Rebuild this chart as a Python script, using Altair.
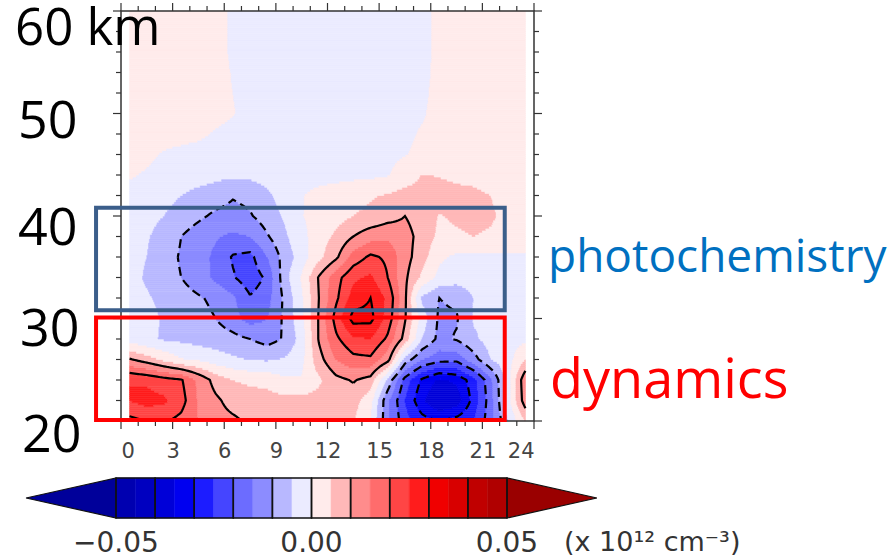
import numpy as np
import pandas as pd
import altair as alt

# ---------------- data ----------------
HOURS = [0.5, 1.5, 2.5, 3.5, 4.5, 5.5, 6.5, 7.5, 8.5, 9.5, 10.5, 11.5,
         12.5, 13.5, 14.5, 15.5, 16.5, 17.5, 18.5, 19.5, 20.5, 21.5, 22.5, 23.5]
HEIGHTS_KM = [20, 22, 24, 26, 28, 30, 32, 34, 36, 38, 40,
              42, 44, 46, 48, 50, 52, 54, 56, 58, 60]

# anomaly in units of 1e-3 (x 10^12 cm^-3); one list per height, hours 0.5 .. 23.5
ROW_20 = [18.5, 20, 20.5, 18.5, 15, 12, 11, 9, 7.5, 7, 7, 6.5, 6, 5.5, 0, -14, -23, -28, -30, -28, -25, -17, -5, 5]
ROW_22 = [25, 27, 26, 22, 14.5, 11, 8, 7.5, 7, 6.5, 6.5, 7, 7, 7, 2, -14, -25, -34, -40, -38, -28, -17, -2, 13]
ROW_24 = [25, 24, 22, 20.5, 14, 8, 5, 4, 3.5, 1, 0.5, 4, 8.5, 10.5, 8, -6, -22, -31, -36, -34, -27, -16, -2, 14]
ROW_26 = [10.5, 7.5, 4, 0.5, -0.5, -2.5, -4, -5.2, -5.5, -4.5, -1.5, 8, 15, 18.5, 19, 12, -7, -15, -18, -18.5, -12, -5, -2, 5]
ROW_28 = [-2, -4, -5.5, -6, -7, -7.5, -8.5, -10, -12, -9.5, -3, 10.5, 19, 24, 25, 19, 8, -5, -11.5, -9.5, -6, -3, -2, -1]
ROW_30 = [-2.5, -3.5, -5.5, -7, -8.5, -10, -13, -17, -15, -9, -1.5, 10.5, 22, 32, 31.5, 23, 10.5, -2, -11, -10.5, -4.5, -2.5, -1.5, -1]
ROW_32 = [-3, -4.5, -6, -8, -9.5, -11, -14, -19.5, -17, -9, -1, 10, 19, 27, 30, 24, 11, -6, -10, -9, -5, -3, -2, -1.5]
ROW_34 = [-3.5, -5.5, -8, -10, -12.5, -16, -19.5, -23, -19, -7, 0.5, 10.5, 18, 24, 26, 20, 11, 4, -1.5, -3, -2.5, -2, -1.5, -1]
ROW_36 = [-3.5, -5, -8, -10.5, -13, -16, -20.5, -21.5, -15, -8, -2.5, 3.5, 9, 17, 21, 19, 12, 7, 1, -1, -1.5, -1.5, -1, -0.5]
ROW_38 = [-3.5, -4.5, -7, -10, -12.5, -14.5, -16, -15, -10.5, -6, -1.5, 2.5, 6, 10, 13, 14, 12, 8, 4, 4.5, 5, 4.5, 3, 1.5]
ROW_40 = [-2, -3.5, -5, -7, -9, -11, -12, -10.5, -7.5, -4.5, -0.2, 1.5, 3, 5, 6, 8, 10, 7.5, 4.8, 5.5, 6, 5.5, 4, 2.5]
ROW_42 = [-1.5, -2.5, -3.5, -5, -6.5, -7.5, -9.5, -8.5, -6, -3, -0.3, 1.5, 2.5, 3.5, 4.5, 5.5, 7, 7, 6.5, 6, 5.8, 5, 3.5, 2.5]
ROW_44 = [0.5, -0.5, -1.5, -2.5, -3, -3.8, -4.2, -4, -3.2, -2.5, -2, -1.8, -1.5, -1.2, -1, -0.3, 2, 5.2, 4.8, 4.3, 4, 3.2, 2.5, 2]
ROW_46 = [2, 1, -0.5, -1.5, -2, -2.3, -2.5, -2.5, -2.5, -2.3, -2.2, -2, -2, -1.8, -1.5, -1, -0.2, 1, 2, 2.3, 2.3, 2.2, 2, 2]
ROW_48 = [2, 2, 2, 1.8, 1, -0.5, -1.5, -2, -2, -2, -2, -2, -2, -2, -2, -1.8, -1, 0.5, 1.8, 2, 2, 2, 2, 2]
ROW_50 = [2, 2, 2, 2, 2, 1.5, 0.3, -1.5, -2, -2, -2, -2, -2, -2, -2, -2, -1.5, -0.5, 1.5, 2, 2, 2, 2, 2]
ROW_52 = [2, 2, 2, 2, 2, 2, 0, -1.5, -2, -2, -2, -2, -2, -2, -2, -2, -2, -0.8, 1.2, 2, 2, 2, 2, 2]
ROW_54 = [2, 2, 2, 2, 2, 2, -0.3, -1.8, -2, -2, -2, -2, -2, -2, -2, -2, -2, -1, 1, 2, 2, 2, 2, 2]
ROW_56 = [2, 2, 2, 2, 2, 2, -0.8, -2, -2, -2, -2, -2, -2, -2, -2, -2, -2, -1.1, 0.9, 2, 2, 2, 2, 2]
ROW_58 = [2, 2, 2, 2, 2, 2, -0.8, -2, -2, -2, -2, -2, -2, -2, -2, -2, -2, -1.1, 0.9, 2, 2, 2, 2, 2]
ROW_60 = [2, 2, 2, 2, 2, 2, -0.8, -2, -2, -2, -2, -2, -2, -2, -2, -2, -2, -1.1, 0.9, 2, 2, 2, 2, 2]
FIELD = [ROW_20, ROW_22, ROW_24, ROW_26, ROW_28, ROW_30, ROW_32, ROW_34, ROW_36, ROW_38,
         ROW_40, ROW_42, ROW_44, ROW_46, ROW_48, ROW_50, ROW_52, ROW_54, ROW_56, ROW_58, ROW_60]

LEVELS = [-0.05, -0.045, -0.04, -0.035, -0.03, -0.025, -0.02, -0.015, -0.01, -0.005, 0.0,
          0.005, 0.01, 0.015, 0.02, 0.025, 0.03, 0.035, 0.04, 0.045, 0.05]
FILL_COLORS = ["#00009a", "#0000b0", "#0000c0", "#0000d8", "#0000f0", "#1c1cff", "#4545ff",
               "#6c6cff", "#8c8cff", "#b8b8ff", "#ebebff",
               "#ffebeb", "#ffb8b8", "#ff8c8c", "#ff6c6c", "#ff4545", "#ff1c1c",
               "#f00000", "#d80000", "#c00000", "#b00000", "#9a0000"]
CONTOURS_POS = [0.01, 0.02, 0.03]
CONTOURS_NEG = [-0.01, -0.02, -0.03]
X_LABELS = [0, 3, 6, 9, 12, 15, 18, 21, 24]
CB_LABEL_VALUES = [-0.05, 0.0, 0.05]
CB_LABEL_TEXT = ["\u22120.05", "0.00", "0.05"]
CB_BOXES = [-0.05, -0.04, -0.03, -0.02, -0.01, 0.0, 0.01, 0.02, 0.03, 0.04, 0.05]
BOX_HOURS = [-1.45, 22.3]
PHOTO_KM = [30.8, 40.8]
DYN_KM = [20.1, 30.1]

# ---------------- layout constants ----------------
W, H = 413, 410
PX_PER_H = W / 24.0
PX_PER_KM = H / 40.0

H_arr = np.asarray(HOURS, float)
K_arr = np.asarray(HEIGHTS_KM, float)
F_arr = np.asarray(FIELD, float) * 1e-3


def resample(xs, ys):
    along_x = np.array([np.interp(xs, H_arr, row) for row in F_arr])
    return np.array([np.interp(ys, K_arr, along_x[:, c]) for c in range(len(xs))]).T


MIDS = [LEVELS[0] - 0.0025] + [(LEVELS[k] + LEVELS[k + 1]) / 2 for k in range(len(LEVELS) - 1)] + [LEVELS[-1] + 0.0025]

# ---- filled field (run-length rects) ----
fx = np.linspace(0.525, 23.475, 460)
fy = np.linspace(20.1, 59.9, 200)
Zf = resample(fx, fy)
bins = np.digitize(Zf, LEVELS)
fill_rows = []
for j, yc in enumerate(fy):
    start = 0
    n = len(fx)
    for i in range(1, n + 1):
        if i == n or bins[j, i] != bins[j, start]:
            fill_rows.append(dict(x0=fx[start] - 0.025, x1=fx[i - 1] + 0.025,
                                  y0=yc - 0.1, y1=yc + 0.1, v=MIDS[bins[j, start]]))
            start = i
fill_df = pd.DataFrame(fill_rows)

# ---- contour lines (marching squares + chaining) ----
cx = np.linspace(0.5, 23.5, 231)
cy = np.linspace(20, 60, 161)
Zc = resample(cx, cy)


def trace(level):
    Z = Zc
    ny, nx = Z.shape
    above = Z > level
    adj = {}

    def link(a, b):
        adj.setdefault(a, []).append(b)
        adj.setdefault(b, []).append(a)

    for j in range(ny - 1):
        for i in range(nx - 1):
            bl, br, tr, tl = above[j, i], above[j, i + 1], above[j + 1, i + 1], above[j + 1, i]
            B = ('h', i, j); T = ('h', i, j + 1); L = ('v', i, j); R = ('v', i + 1, j)
            cr = []
            if bl != br: cr.append(B)
            if br != tr: cr.append(R)
            if tr != tl: cr.append(T)
            if tl != bl: cr.append(L)
            if len(cr) == 2:
                link(cr[0], cr[1])
            elif len(cr) == 4:
                c = (Z[j, i] + Z[j, i + 1] + Z[j + 1, i + 1] + Z[j + 1, i]) / 4 > level
                if c == bl:
                    link(B, R); link(T, L)
                else:
                    link(L, B); link(T, R)

    def pt(e):
        kind, i, j = e
        if kind == 'h':
            za, zb = Z[j, i], Z[j, i + 1]
            t = (level - za) / (zb - za)
            return cx[i] + t * (cx[i + 1] - cx[i]), cy[j]
        za, zb = Z[j, i], Z[j + 1, i]
        t = (level - za) / (zb - za)
        return cx[i], cy[j] + t * (cy[j + 1] - cy[j])

    visited = set()

    def walk(s):
        path = [s]; visited.add(s); cur = s
        while True:
            nxt = [q for q in adj[cur] if q not in visited]
            if not nxt:
                break
            cur = nxt[0]; visited.add(cur); path.append(cur)
        return path

    lines = []
    for k, v in adj.items():
        if len(v) == 1 and k not in visited:
            lines.append(walk(k))
    for k in list(adj.keys()):
        if k not in visited:
            p = walk(k); p.append(p[0]); lines.append(p)
    return [[pt(e) for e in ln] for ln in lines]


def contour_df(levels):
    rows = []
    for lev in levels:
        for n, ln in enumerate(trace(lev)):
            for o, (x, y) in enumerate(ln):
                rows.append(dict(x=x, y=y, lid=f"{lev}_{n}", o=o))
    return pd.DataFrame(rows)


pos_df = contour_df(CONTOURS_POS)
neg_df = contour_df(CONTOURS_NEG)

# ---- ticks ----
MINOR_LEN, MAJOR_LEN = 5, 8
tick_rows = []
for h in range(25):
    ln = (MAJOR_LEN if h % 3 == 0 else MINOR_LEN)
    tick_rows.append(dict(x=h, x2=h, y=20, y2=20 - ln / PX_PER_KM))
    tick_rows.append(dict(x=h, x2=h, y=60, y2=60 + ln / PX_PER_KM))
for km in range(20, 61, 2):
    ln = (MAJOR_LEN if km % 10 == 0 else MINOR_LEN)
    tick_rows.append(dict(x=0, x2=0 - ln / PX_PER_H, y=km, y2=km))
    tick_rows.append(dict(x=24, x2=24 + ln / PX_PER_H, y=km, y2=km))
tick_df = pd.DataFrame(tick_rows)

# ---------------- chart ----------------
xs = alt.Scale(domain=[0, 24], nice=False, zero=False)
ys = alt.Scale(domain=[20, 60], nice=False, zero=False)
cs = alt.Scale(type='threshold', domain=LEVELS, range=FILL_COLORS)
XAX = alt.Axis(values=X_LABELS, tickSize=0, domain=False, grid=False,
               labelFont='DejaVu Sans', labelFontSize=21, labelColor='#444444',
               labelPadding=19, title='')

fill = alt.Chart(fill_df).mark_rect(strokeWidth=0.6).encode(
    x=alt.X('x0:Q', scale=xs, axis=XAX), x2='x1:Q',
    y=alt.Y('y0:Q', scale=ys, axis=None), y2='y1:Q',
    color=alt.Color('v:Q', scale=cs, legend=None),
    stroke=alt.Stroke('v:Q', scale=cs, legend=None))

solid = alt.Chart(pos_df).mark_line(color='black', strokeWidth=2.2).encode(
    x=alt.X('x:Q', scale=xs, axis=XAX), y=alt.Y('y:Q', scale=ys, axis=None),
    detail='lid:N', order='o:Q')
dashed = alt.Chart(neg_df).mark_line(color='black', strokeWidth=2.2, strokeDash=[9, 5]).encode(
    x=alt.X('x:Q', scale=xs, axis=XAX), y=alt.Y('y:Q', scale=ys, axis=None),
    detail='lid:N', order='o:Q')

frame = alt.Chart(pd.DataFrame({'x': [0], 'x2': [24], 'y': [20], 'y2': [60]})).mark_rect(
    fillOpacity=0, stroke='#333333', strokeWidth=1.5).encode(
    x=alt.X('x:Q', scale=xs, axis=XAX), x2='x2:Q', y=alt.Y('y:Q', scale=ys, axis=None), y2='y2:Q')

ticks = alt.Chart(tick_df).mark_rule(color='#333333', strokeWidth=1.2).encode(
    x=alt.X('x:Q', scale=xs, axis=XAX), x2='x2:Q', y=alt.Y('y:Q', scale=ys, axis=None), y2='y2:Q')


def box(km, color):
    d = pd.DataFrame({'x': [BOX_HOURS[0]], 'x2': [BOX_HOURS[1]], 'y': [km[0]], 'y2': [km[1]]})
    return alt.Chart(d).mark_rect(fillOpacity=0, stroke=color, strokeWidth=4).encode(
        x=alt.X('x:Q', scale=xs, axis=XAX), x2='x2:Q', y=alt.Y('y:Q', scale=ys, axis=None), y2='y2:Q')


def label(txt, px, py, size, color='black', font='Open Sans', align='left', baseline='alphabetic'):
    return alt.Chart(pd.DataFrame({'t': [txt]})).mark_text(
        font=font, fontSize=size, color=color, align=align, baseline=baseline).encode(
        text='t:N', x=alt.value(px - 121), y=alt.value(py - 11))


main = alt.layer(
    fill, solid, dashed, frame, ticks,
    box(PHOTO_KM, '#3b5e8a'), box(DYN_KM, '#ff0000'),
    label('60 km', 15, 45, 51), label('50', 18, 138, 52), label('40', 18, 245, 52),
    label('30', 20, 346, 52), label('20', 22, 452, 52),
    label('photochemistry', 548, 272, 46, color='#0070c0'),
    label('dynamics', 550, 398, 54, color='#ff0000'),
)

# ---- colour bar ----
cbx = alt.Scale(domain=[-0.05, 0.05], range=[-5, 386], nice=False, zero=False)
cby = alt.Scale(domain=[0, 1], range=[507, 467], nice=False, zero=False)
CB_EXT = 0.023
cb_df = pd.DataFrame({'lo': LEVELS[:-1], 'hi': LEVELS[1:], 'b': 0, 't': 1,
                      'v': MIDS[1:-1]})
cb_rects = alt.Chart(cb_df).mark_rect(strokeWidth=0.5).encode(
    x=alt.X('lo:Q', scale=cbx, axis=None), x2='hi:Q',
    y=alt.Y('b:Q', scale=cby, axis=None), y2='t:Q',
    color=alt.Color('v:Q', scale=cs, legend=None),
    stroke=alt.Stroke('v:Q', scale=cs, legend=None))
cbb_df = pd.DataFrame({'lo': CB_BOXES[:-1], 'hi': CB_BOXES[1:], 'b': 0, 't': 1})
cb_boxes = alt.Chart(cbb_df).mark_rect(fillOpacity=0, stroke='#111111', strokeWidth=1.5).encode(
    x=alt.X('lo:Q', scale=cbx, axis=None), x2='hi:Q',
    y=alt.Y('b:Q', scale=cby, axis=None), y2='t:Q')
tri_left = alt.Chart(pd.DataFrame({'v': [LEVELS[0] - CB_EXT, LEVELS[0]], 'lo': [0.5, 0], 'hi': [0.5, 1],
                                   'c': [MIDS[0], MIDS[0]]})).mark_area(stroke='#111111', strokeWidth=1.2).encode(
    x=alt.X('v:Q', scale=cbx, axis=None), y=alt.Y('lo:Q', scale=cby, axis=None), y2='hi:Q',
    color=alt.Color('c:Q', scale=cs, legend=None))
tri_right = alt.Chart(pd.DataFrame({'v': [LEVELS[-1], LEVELS[-1] + CB_EXT], 'lo': [0, 0.5], 'hi': [1, 0.5],
                                    'c': [MIDS[-1], MIDS[-1]]})).mark_area(stroke='#111111', strokeWidth=1.2).encode(
    x=alt.X('v:Q', scale=cbx, axis=None), y=alt.Y('lo:Q', scale=cby, axis=None), y2='hi:Q',
    color=alt.Color('c:Q', scale=cs, legend=None))
cb_labels = alt.Chart(pd.DataFrame({'v': CB_LABEL_VALUES, 't': CB_LABEL_TEXT})).mark_text(
    font='DejaVu Sans', fontSize=28, color='#333333', baseline='middle').encode(
    x=alt.X('v:Q', scale=cbx, axis=None), y=alt.value(533), text='t:N')
unit = label('(x 10\u00b9\u00b2 cm\u207b\u00b3)', 564, 543, 27, color='#333333', font='DejaVu Sans',
             baseline='middle')

cbar = alt.layer(cb_rects, tri_left, tri_right, cb_boxes, cb_labels, unit)

chart = alt.layer(main, cbar).resolve_scale(x='independent', y='independent').properties(
    width=W, height=H,
    autosize=alt.AutoSizeParams(type='none'),
    padding={'left': 121, 'top': 11, 'right': 894 - 121 - W, 'bottom': 559 - 11 - H},
    background='white',
).configure_view(stroke=None)

chart.save("out.html", embed_options={"renderer": "svg", "actions": False})
